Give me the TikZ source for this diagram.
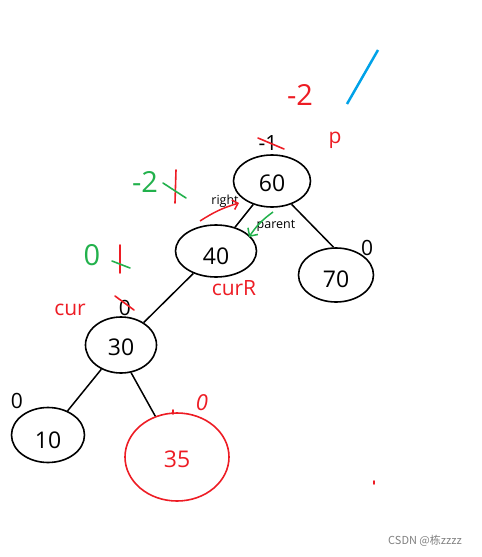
\documentclass[tikz,border=0pt]{standalone}
\usepackage{fontspec}
\setmainfont{Open Sans}
\newfontfamily\cjk{Noto Sans CJK SC}
\usepackage{xcolor}
\usepackage{tikz}
\usetikzlibrary{shapes.geometric, arrows.meta}

\definecolor{pred}{HTML}{ED1C24}
\definecolor{pgreen}{HTML}{22B14C}
\definecolor{pblue}{HTML}{00A2E8}

\begin{document}
\begin{tikzpicture}[x=1pt, y=-1pt,
  tnode/.style={ellipse, draw, line width=1.6pt, inner sep=0pt,
                text height=20pt, text depth=0pt,
                font=\fontsize{23}{23}\selectfont},
  bal/.style={font=\fontsize{21}{21}\selectfont},
  hand/.style={font=\fontsize{29}{29}\selectfont},
  tag/.style={font=\fontsize{21}{21}\selectfont, text=pred},
  small/.style={font=\fontsize{12.5}{12.5}\selectfont},
  edge/.style={line width=1.5pt},
  strike/.style={line width=1.6pt, line cap=round}
]
  \useasboundingbox (0,0) rectangle (482,557);

  % tree
  \node[tnode, minimum width=77pt, minimum height=52pt] (n60) at (272,181) {60};
  \node[tnode, minimum width=81pt, minimum height=52pt, text height=26pt] (n40) at (216,251) {40};
  \node[tnode, minimum width=75pt, minimum height=54pt, text height=24pt] (n70) at (336,275) {70};
  \node[tnode, minimum width=71pt, minimum height=56pt] (n30) at (121,345) {30};
  \node[tnode, minimum width=73pt, minimum height=55pt, text height=26pt] (n10) at (48,435) {10};
  \node[tnode, draw=pred, text=pred, minimum width=104pt, minimum height=88pt] (n35) at (177,457) {35};

  \draw[edge] (n60) -- (n40);
  \draw[edge] (n60.310) -- (n70.95);
  \draw[edge] (n40) -- (n30);
  \draw[edge] (n30) -- (n10);
  \draw[edge] (n30.290) -- (n35.118);

  % balance factors
  \node[bal] (b60) at (268,143) {-1};
  \node[bal] (b70) at (367,248) {0};
  \node[bal] (b30) at (125,308) {0};
  \node[bal] (b10) at (17,401) {0};
  \node[hand, text=pred] (b60new) at (300,95) {-2};
  \node[hand, text=pgreen] (b40new) at (145,182) {-2};
  \node[hand, text=pgreen] (b40b) at (92,255) {0};
  \node[bal, text=pred, font=\fontsize{22}{22}\selectfont\itshape] (b35) at (202,403) {0};

  \draw[strike, pred] (258,138) -- (284,149);
  \draw[strike, pred] (176,170) -- (175,203);
  \draw[strike, pgreen] (163,183) -- (186,198);
  \draw[strike, pred] (120,245) -- (120,273);
  \draw[strike, pgreen] (112,261) -- (130,268);
  \draw[strike, pred] (115,296) -- (134,310);
  \draw[strike, pred] (173,410) -- (173,414);
  \draw[strike, pred] (374,481) -- (374,484);

  % labels
  \node[tag] (p) at (335,140) {p};
  \node[tag] (cur) at (70,310) {cur};
  \node[tag] (curR) at (234,288) {curR};
  \node[small] (right) at (225,201) {right};
  \node[small] (parent) at (276,226) {parent};

  \coordinate (ra) at (200,221);
  \coordinate (rb) at (239,203);
  \draw[pred, line width=1.5pt, -{Straight Barb[length=5pt]}] (ra) to[bend left=8] (rb);
  \coordinate (ga) at (273,212);
  \coordinate (gb) at (249,237);
  \draw[pgreen, line width=1.5pt, -{Straight Barb[length=6pt]}] (ga) to[bend right=10] (gb);

  \coordinate (bl1) at (347,104);
  \coordinate (bl2) at (378,50);
  \draw[pblue, line width=2.5pt] (bl1) -- (bl2);

  \node[text=gray, font=\cjk\fontsize{11}{11}\selectfont] (mark) at (425,541) {CSDN @栋zzzz};
\end{tikzpicture}
\end{document}
